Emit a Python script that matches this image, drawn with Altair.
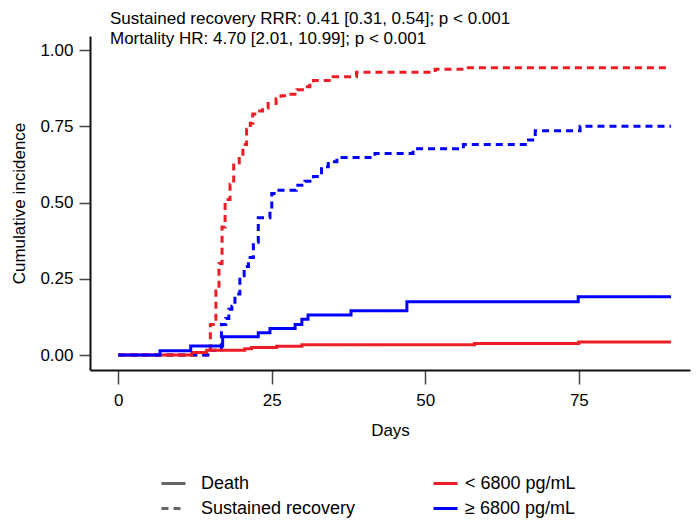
import altair as alt
import pandas as pd

FONT = "Liberation Sans"
RED = "#EE1C25"
BLUE = "#0000FF"

TYPES = ["Death", "Sustained recovery"]
GROUPS = ["< 6800 pg/mL", "≥ 6800 pg/mL"]

# Death, < 6800 pg/mL (red solid)
death_low_days = [0, 12, 14.4, 20.6, 21.7, 25.8, 29.9, 58, 75, 90]
death_low_vals = [0, 0.008, 0.016, 0.021, 0.025, 0.029, 0.034, 0.038, 0.043, 0.043]

# Death, >= 6800 pg/mL (blue solid)
death_high_days = [0, 6.8, 11.8, 17, 22.8, 24.7, 28.8, 29.9, 30.9, 37.9, 47, 74.9, 90]
death_high_vals = [0, 0.014, 0.03, 0.06, 0.073, 0.087, 0.10, 0.117, 0.131, 0.145, 0.175, 0.191, 0.191]

# Sustained recovery, < 6800 pg/mL (red dashed)
rec_low_days = [0, 15, 15.9, 16.4, 16.9, 17.4, 18.2, 18.8, 19.7, 20.3, 20.9, 21.5, 21.9, 22.5,
                23.5, 24.4, 25.7, 26.5, 27.4, 29.1, 30.4, 31.2, 31.8, 35, 38.8, 51.6, 57, 90]
rec_low_vals = [0, 0.10, 0.21, 0.30, 0.42, 0.51, 0.56, 0.63, 0.65, 0.69, 0.74, 0.76, 0.79, 0.80,
                0.81, 0.825, 0.84, 0.85, 0.855, 0.87, 0.88, 0.89, 0.90, 0.912, 0.927, 0.937, 0.942, 0.942]

# Sustained recovery, >= 6800 pg/mL (blue dashed)
rec_high_days = [0, 15, 16.8, 17.5, 18, 18.5, 19, 19.8, 20.5, 21.2, 22, 22.8, 24.7, 25, 25.8,
                 29, 30.4, 31.8, 33.1, 34.2, 35.6, 41.8, 48, 56.2, 66.8, 67.9, 75.2, 90]
rec_high_vals = [0, 0.016, 0.10, 0.12, 0.15, 0.16, 0.20, 0.26, 0.29, 0.32, 0.37, 0.45, 0.47, 0.53, 0.54,
                 0.557, 0.57, 0.585, 0.617, 0.634, 0.648, 0.661, 0.676, 0.69, 0.705, 0.735, 0.75, 0.75]

ANNOT = ["Sustained recovery RRR: 0.41 [0.31, 0.54]; p < 0.001",
         "Mortality HR: 4.70 [2.01, 10.99]; p < 0.001"]

series = [
    ("rd", TYPES[1], GROUPS[0], rec_low_days, rec_low_vals),
    ("bd", TYPES[1], GROUPS[1], rec_high_days, rec_high_vals),
    ("rs", TYPES[0], GROUPS[0], death_low_days, death_low_vals),
    ("bs", TYPES[0], GROUPS[1], death_high_days, death_high_vals),
]
rows = []
for key, typ, grp, days, vals in series:
    for d, v in zip(days, vals):
        rows.append({"key": key, "type": typ, "group": grp, "day": d, "value": v})
df = pd.DataFrame(rows)

base = alt.Chart(df).mark_line(interpolate="step-after", strokeWidth=3, strokeCap="butt").encode(
    x=alt.X("day:Q",
            scale=alt.Scale(domain=[-4.6, 93.1], nice=False, zero=False),
            axis=alt.Axis(values=[0, 25, 50, 75], title="Days", tickSize=14,
                          labelPadding=8, titlePadding=14)),
    y=alt.Y("value:Q",
            scale=alt.Scale(domain=[-0.049, 1.046], nice=False, zero=False),
            axis=alt.Axis(values=[0, 0.25, 0.5, 0.75, 1], format=".2f",
                          title="Cumulative incidence", tickSize=11,
                          labelPadding=6, titlePadding=11)),
    color=alt.Color("group:N", scale=alt.Scale(domain=GROUPS, range=[RED, BLUE]),
                    legend=alt.Legend(title=None, orient="none", legendX=342, legendY=434,
                                      labelOffset=6, direction="vertical")),
    strokeDash=alt.StrokeDash("type:N", scale=alt.Scale(domain=TYPES, range=[[1, 0], [7, 5]]),
                              legend=alt.Legend(title=None, orient="none", legendX=70, legendY=434,
                                                labelOffset=14, direction="vertical",
                                                symbolStrokeColor="#666666")),
)

layers = [base.transform_filter(alt.datum.key == k) for k in ["rd", "bd", "rs", "bs"]]

t1 = alt.Chart(pd.DataFrame({"t": [ANNOT[0]]})).mark_text(
    align="left", baseline="alphabetic", fontSize=17, font=FONT, color="black"
).encode(x=alt.value(20), y=alt.value(-12), text="t:N")
t2 = alt.Chart(pd.DataFrame({"t": [ANNOT[1]]})).mark_text(
    align="left", baseline="alphabetic", fontSize=17, font=FONT, color="black"
).encode(x=alt.value(20), y=alt.value(8), text="t:N")

chart = alt.layer(*layers, t1, t2).properties(
    width=600, height=334,
    autosize=alt.AutoSizeParams(type="none"),
    padding={"left": 82, "top": 28, "right": 1, "bottom": 148},
).configure_view(stroke=None).configure_axis(
    domainColor="#111111", domainWidth=2, tickColor="#444444", tickWidth=1.5,
    grid=False, labelFont=FONT, labelFontSize=17, labelColor="black",
    titleFont=FONT, titleFontSize=17, titleFontWeight="normal", titleColor="black",
).configure_legend(
    labelFont=FONT, labelFontSize=18, labelColor="black", symbolType="stroke",
    symbolSize=576, symbolStrokeWidth=3, padding=0, rowPadding=2,
)

chart.save("out.html", embed_options={"renderer": "svg", "actions": False})
